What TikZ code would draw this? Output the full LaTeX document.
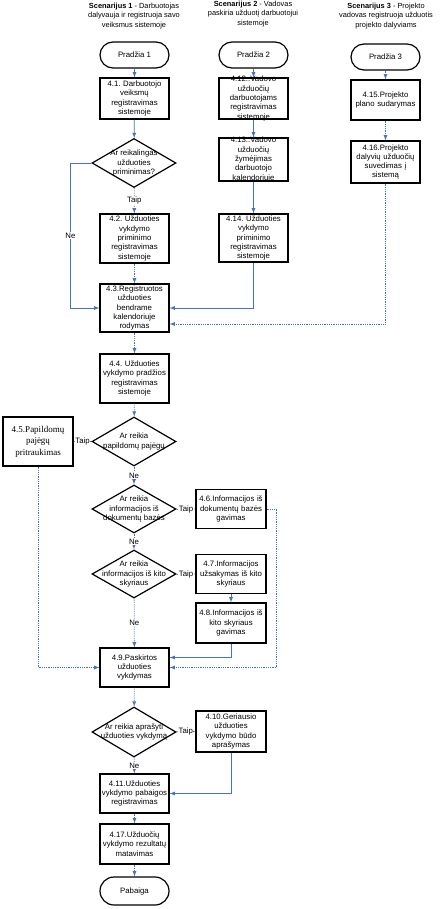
\documentclass[tikz,border=0pt]{standalone}
\usepackage{fontspec}
\setmainfont{Liberation Sans}
\newfontfamily\timesfont{Liberation Serif}
\usetikzlibrary{shapes.geometric,arrows,positioning}
\frenchspacing

\definecolor{linkblue}{RGB}{68,114,196}

\begin{document}
\begin{tikzpicture}[
     x=1pt, y=-1pt,
     % define styles
     txt/.style={
         font=\fontsize{7.8}{9.3}\selectfont,
         align=center
     },
     task/.style={
         txt, draw, line width=1.2pt,
         text width=68pt, inner sep=0pt,
         minimum width=69pt, minimum height=40pt
     },
     start/.style={
         txt, draw, line width=1.2pt, rounded corners=13pt,
         minimum width=69pt, minimum height=26pt
     },
     choice/.style={
         diamond, draw, line width=1.2pt, inner sep=0pt,
         minimum width=84pt, minimum height=49pt
     },
     intext/.style={txt, inner sep=0pt},
     head/.style={font=\fontsize{7.4}{9.2}\selectfont, align=center},
     ans/.style={txt, fill=white, inner sep=0.5pt},
     flow/.style={->, draw=linkblue, line width=0.8pt},
     flowd/.style={flow, densely dotted},
     >=latex
]
\useasboundingbox (0,0) rectangle (447,909);

% scenario headings
\node[head] (h1) at (134,16) {\textbf{Scenarijus 1} - Darbuotojas\\dalyvauja ir registruoja savo\\veiksmus sistemoje};
\node[head] (h2) at (253,14) {\textbf{Scenarijus 2} - Vadovas\\paskiria užduotį darbuotojui\\sistemoje};
\node[head] (h3) at (386,16) {\textbf{Scenarijus 3} - Projekto\\vadovas registruoja užduotis\\projekto dalyviams};

% starts
\node[start] (p1) at (134.5,55) {Pradžia 1};
\node[start] (p2) at (253.5,55) {Pradžia 2};
\node[start] (p3) at (385.5,57) {Pradžia 3};

% scenario 2 and 3 columns
\node[task, minimum height=41pt, label={[intext]center:{4.12..Vadovo\\užduočių\\darbuotojams\\registravimas\\sistemoje}}] (t12) at (253.5,98.5) {};
\node[task, minimum height=43pt, label={[intext]center:{4.13..Vadovo\\užduočių\\žymėjimas\\darbuotojo\\kalendoriuje}}] (t13) at (253.5,159.5) {};
\node[task, minimum height=48pt] (t14) at (253.5,238) {4.14. Užduoties\\vykdymo\\priminimo\\registravimas\\sistemoje};
\node[task] (t15) at (385.5,100) {4.15.Projekto\\plano sudarymas};
\node[task, minimum height=42pt] (t16) at (385.5,162) {4.16.Projekto\\dalyvių užduočių\\suvedimas į\\sistemą};

% main column
\node[task, minimum height=41pt] (t1) at (134.5,98.5) {4.1. Darbuotojo\\veiksmų\\registravimas\\sistemoje};
\node[choice, label={[intext]center:{Ar reikalingas\\užduoties\\priminimas?}}] (d1) at (134,163) {};
\node[task, minimum height=49pt] (t2) at (134.5,238.5) {4.2. Užduoties\\vykdymo\\priminimo\\registravimas\\sistemoje};
\node[task, minimum height=48pt] (t3) at (134.5,308) {4.3.Registruotos\\užduoties\\bendrame\\kalendoriuje\\rodymas};
\node[task, minimum height=49pt] (t4) at (134.5,378.5) {4.4. Užduoties\\vykdymo pradžios\\registravimas\\sistemoje};
\node[choice, label={[intext]center:{Ar reikia\\papildomų pajėgų}}] (d2) at (134,441.5) {};
\node[task, minimum width=70pt, minimum height=49pt, font=\timesfont\fontsize{9}{11.5}\selectfont] (t5) at (38,441.5) {4.5.Papildomų\\pajėgų\\pritraukimas};
\node[choice, minimum height=48pt, label={[intext]center:{Ar reikia\\informacijos iš\\dokumentų bazės}}] (d3) at (134,509) {};
\node[task, minimum width=70pt, minimum height=39pt] (t6) at (231,509) {4.6.Informacijos iš\\dokumentų bazės\\gavimas};
\node[choice, minimum height=48pt, label={[intext]center:{Ar reikia\\informacijos iš kito\\skyriaus}}] (d4) at (134,574) {};
\node[task, minimum width=70pt, minimum height=39pt] (t7) at (231,574) {4.7.Informacijos\\užsakymas iš kito\\skyriaus};
\node[task, minimum width=70pt, minimum height=40pt] (t8) at (231,623) {4.8.Informacijos iš\\kito skyriaus\\gavimas};
\node[task, minimum height=39pt] (t9) at (134.5,667.5) {4.9.Paskirtos\\užduoties\\vykdymas};
\node[choice, minimum height=50pt, label={[intext]center:{Ar reikia aprašyti\\užduoties vykdymą}}] (d5) at (134,732) {};
\node[task, minimum width=70pt, minimum height=41pt] (t10) at (231,731.5) {4.10.Geriausio\\užduoties\\vykdymo būdo\\aprašymas};
\node[task, minimum height=39pt] (t11) at (134.5,793.5) {4.11.Užduoties\\vykdymo pabaigos\\registravimas};
\node[task] (t17) at (134.5,844) {4.17.Užduočių\\vykdymo rezultatų\\matavimas};
\node[start, minimum height=28pt, rounded corners=14pt] (pend) at (134.5,891) {Pabaiga};

% scenario 1
\draw[flow] (p1) -- (t1);
\draw[flow] (t1) -- (d1);
\draw[flowd] (d1) -- node[ans] {Taip} (t2);
\draw[flow] (d1.west) -- ++(-21,0) |- node[ans, pos=0.25] {Ne} (t3.west);
\draw[flowd] (t2) -- (t3);
% scenario 2
\draw[flow] (p2) -- (t12);
\draw[flow] (t12) -- (t13);
\draw[flow] (t13) -- (t14);
\draw[flow] (t14.south) |- (t3.east);
% scenario 3
\draw[flowd] (p3) -- (t15);
\draw[flowd] (t15) -- (t16);
\draw[flowd] (t16.south) |- ([yshift=-16pt]t3.east);

%
\draw[flowd] (t3) -- (t4);
\draw[flowd] (t4) -- (d2);
\draw[flow] (d2) -- node[ans] {Taip} (t5);
\draw[flowd] (t5.south) |- (t9.west);
\draw[flowd] (d2) -- node[ans] {Ne} (d3);
\draw[flow] (d3) -- node[ans] {Taip} (t6);
\draw[flowd] (t6.east) -- ++(10,0) |- (t9.east);
\draw[flowd] (d3) -- node[ans] {Ne} (d4);
\draw[flow] (d4) -- node[ans] {Taip} (t7);
\draw[flow] (t7) -- (t8);
\draw[flow] (t8.south) |- ([yshift=10pt]t9.east);
\draw[flowd] (d4) -- node[ans] {Ne} (t9);
\draw[flowd] (t9) -- (d5);
\draw[flow] (d5) -- node[ans] {Taip} (t10);
\draw[flow] (t10.south) |- (t11.east);
\draw[flowd] (d5) -- node[ans] {Ne} (t11);
\draw[flowd] (t11) -- (t17);
\draw[flowd] (t17) -- (pend);

\end{tikzpicture}
\end{document}
